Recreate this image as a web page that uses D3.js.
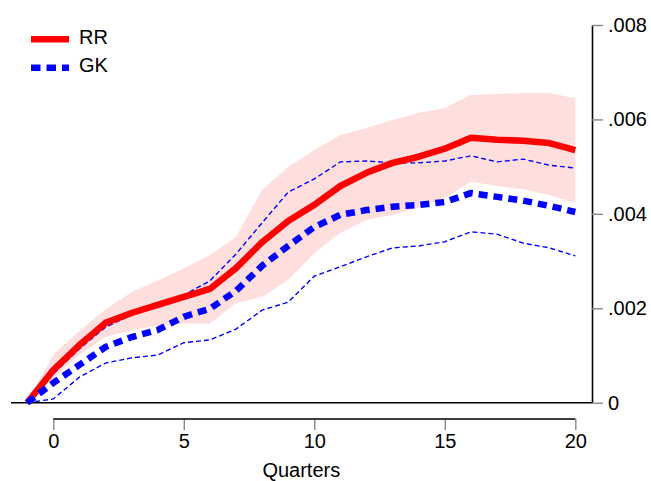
<!DOCTYPE html>
<html>
<head>
<meta charset="utf-8">
<script src="https://cdn.jsdelivr.net/npm/d3@7/dist/d3.min.js"></script>
<style>
  html, body { margin: 0; padding: 0; background: #fff; }
  svg { display: block; font-family: "Liberation Sans", Arial, Helvetica, sans-serif; }
</style>
</head>
<body>
<svg id="chart" width="651" height="481"></svg>
<script>
// ---- Data ----
const quarters = [-1,0,1,2,3,4,5,6,7,8,9,10,11,12,13,14,15,16,17,18,19,20];
const rrMean  = [0,.00069,.00122,.00169,.00190,.00207,.00224,.00241,.00285,.00340,.00385,.00419,.00459,.00487,.00508,.00521,.00538,.00561,.00557,.00555,.00550,.00535];
const rrUpper = [0,.00102,.00152,.00198,.00234,.00259,.00285,.00313,.00351,.00451,.00499,.00535,.00567,.00582,.00599,.00614,.00624,.00652,.00654,.00656,.00656,.00645];
const rrLower = [0,.00052,.00101,.00139,.00154,.00163,.00168,.00168,.00211,.00224,.00260,.00317,.00360,.00387,.00398,.00413,.00434,.00468,.00459,.00452,.00440,.00423];
const gkMean  = [0,.00042,.00080,.00118,.00139,.00154,.00182,.00199,.00237,.00290,.00332,.00372,.00398,.00408,.00415,.00419,.00425,.00444,.00436,.00428,.00417,.00404];
const gkUpper = [0,.00061,.00114,.00160,.00186,.00205,.00228,.00258,.00315,.00381,.00446,.00474,.00510,.00512,.00508,.00508,.00512,.00523,.00510,.00516,.00503,.00497];
const gkLower = [0,.00008,.00054,.00084,.00095,.00101,.00127,.00133,.00156,.00196,.00213,.00268,.00288,.00309,.00328,.00332,.00341,.00362,.00357,.00338,.00328,.00311];
const xTicks = [0,5,10,15,20];
const yTicks = [0,.002,.004,.006,.008];
const yTickLabels = ["0",".002",".004",".006",".008"];
const legendLabels = ["RR","GK"];
const xTitle = "Quarters";

// ---- Scales ----
const svg = d3.select("#chart");
const x = d3.scaleLinear().domain([-1,20]).range([27.2,575.3]);
const y = d3.scaleLinear().domain([0,.008]).range([402.7,25]);

const RED = "#ff0000", BLUE = "#0000ff", PINK = "#ffdede";

// band
const area = d3.area()
  .x((d,i)=>x(quarters[i]))
  .y0((d,i)=>y(rrLower[i]))
  .y1((d,i)=>y(rrUpper[i]));
svg.append("path").datum(rrMean).attr("d", area).attr("fill", PINK);

const line = arr => d3.line().x((d,i)=>x(quarters[i])).y(d=>y(d))(arr);

// zero line (frame)
svg.append("line").attr("x1", 11).attr("x2", 592).attr("y1", y(0)).attr("y2", y(0))
  .attr("stroke", "#000").attr("stroke-width", 1.6);

// thin GK bands
[gkUpper, gkLower].forEach(arr => {
  svg.append("path").attr("d", line(arr)).attr("fill","none")
    .attr("stroke", BLUE).attr("stroke-width", 1.4).attr("stroke-dasharray","5,3");
});

// RR mean
svg.append("path").attr("d", line(rrMean)).attr("fill","none")
  .attr("stroke", RED).attr("stroke-width", 6.5).attr("stroke-linejoin","round");

// GK mean
svg.append("path").attr("d", line(gkMean)).attr("fill","none")
  .attr("stroke", BLUE).attr("stroke-width", 6.5).attr("stroke-dasharray","9,6");

// ---- Y axis (right) ----
const yAxis = d3.axisRight(y).tickValues(yTicks)
  .tickFormat((d,i)=>yTickLabels[i]).tickSize(11).tickSizeOuter(0).tickPadding(5);
const gy = svg.append("g").attr("transform","translate(592,0)").call(yAxis);
gy.select(".domain").attr("stroke","#000").attr("stroke-width",1.6);
gy.selectAll(".tick line").attr("stroke","#888").attr("stroke-width",1.4);
gy.selectAll(".tick text").attr("font-size",20).attr("fill","#000")
  .attr("font-family",'"Liberation Sans", Arial, sans-serif');

// ---- X axis ----
const xAxis = d3.axisBottom(x).tickValues(xTicks).tickSize(11).tickSizeOuter(0).tickPadding(4);
const gx = svg.append("g").attr("transform","translate(0,419)").call(xAxis);
gx.select(".domain").remove();
gx.append("line").attr("x1", x(xTicks[0])).attr("x2", x(xTicks[xTicks.length-1]))
  .attr("y1",0).attr("y2",0).attr("stroke","#000").attr("stroke-width",1.6);
gx.selectAll(".tick line").attr("stroke","#888").attr("stroke-width",1.4);
gx.selectAll(".tick text").attr("font-size",20).attr("fill","#000")
  .attr("font-family",'"Liberation Sans", Arial, sans-serif');

svg.append("text").attr("x", x(10)-13).attr("y", 477).attr("text-anchor","middle")
  .attr("font-size",20).attr("fill","#000").text(xTitle);

// ---- Legend ----
const leg = svg.append("g");
leg.append("line").attr("x1",31).attr("x2",69).attr("y1",39.3).attr("y2",39.3)
  .attr("stroke",RED).attr("stroke-width",6.5);
leg.append("text").attr("x",79).attr("y",44).attr("font-size",20).attr("fill","#000").text(legendLabels[0]);
leg.append("line").attr("x1",31).attr("x2",69).attr("y1",67.7).attr("y2",67.7)
  .attr("stroke",BLUE).attr("stroke-width",6.5).attr("stroke-dasharray","9.5,6");
leg.append("text").attr("x",79).attr("y",72).attr("font-size",20).attr("fill","#000").text(legendLabels[1]);
</script>
</body>
</html>
